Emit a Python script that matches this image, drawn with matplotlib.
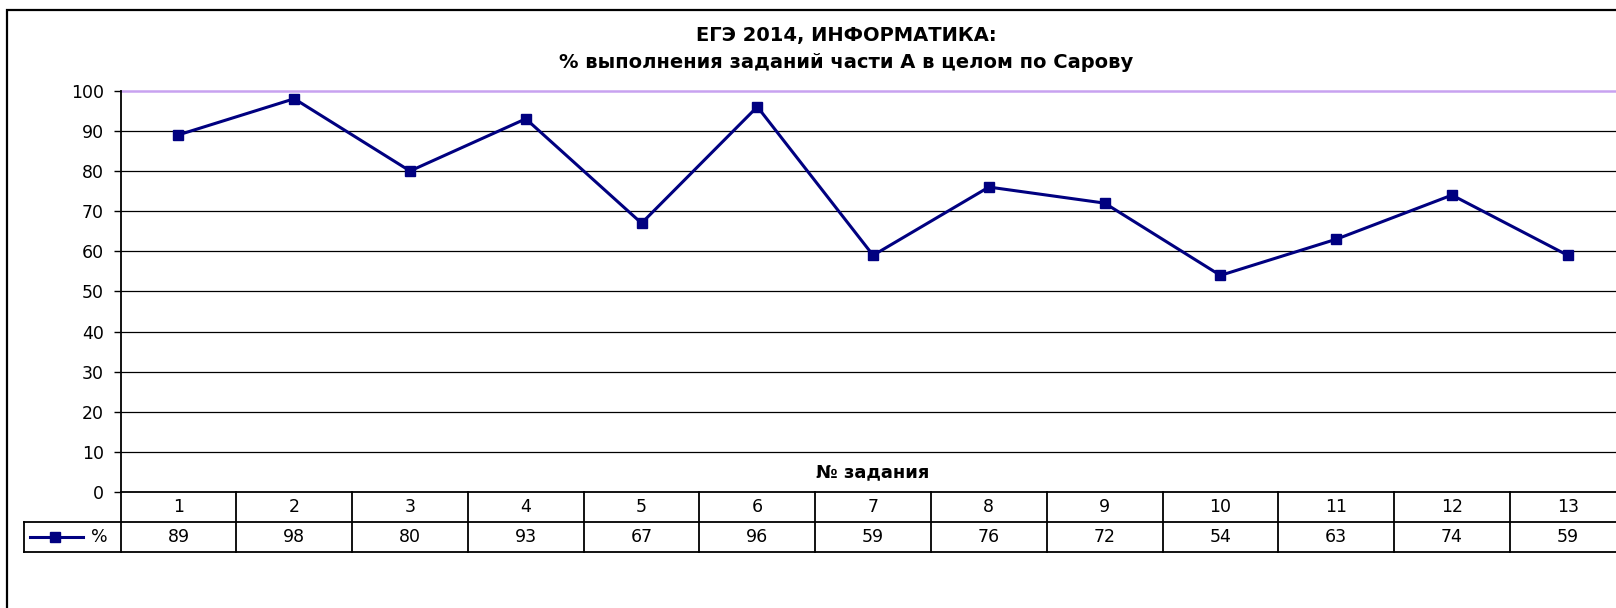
import matplotlib
matplotlib.use("Agg")
import matplotlib.pyplot as plt
from matplotlib.patches import Rectangle
from matplotlib.transforms import blended_transform_factory

plt.rcParams['font.family'] = ['DejaVu Sans']

# ---- data ----
tasks = ['1', '2', '3', '4', '5', '6', '7', '8', '9', '10', '11', '12', '13']
percent = [89, 98, 80, 93, 67, 96, 59, 76, 72, 54, 63, 74, 59]
yticks = [0, 10, 20, 30, 40, 50, 60, 70, 80, 90, 100]
title_line1 = 'ЕГЭ 2014, ИНФОРМАТИКА:'
title_line2 = '% выполнения заданий части А в целом по Сарову'
xlabel = '№ задания'
series_name = '%'

W, H = 1616, 608
fig = plt.figure(figsize=(W / 100, H / 100), dpi=100)

def fx(px):
    return px / W

def fy(py):
    return 1 - py / H

FS = 12.5

ax_left, ax_right, ax_top, ax_bottom = 120.6, 1625.6, 90.7, 492.2
ax = fig.add_axes([fx(ax_left), fy(ax_bottom), fx(ax_right - ax_left), (ax_bottom - ax_top) / H])

xs = list(range(1, len(tasks) + 1))
navy = '#000080'
ax.plot(xs, percent, color=navy, lw=2.2, marker='s', ms=7, mfc=navy, mec=navy, clip_on=False, zorder=5)

ax.set_xlim(0.5, len(tasks) + 0.5)
ax.set_ylim(0, 100)
ax.set_yticks(yticks)
ax.set_yticklabels([str(v) for v in yticks], fontsize=FS)
ax.set_xticks([])
ax.tick_params(axis='y', direction='out', length=5, width=1, pad=7, colors='black')

for v in yticks[1:-1]:
    ax.axhline(v, color='black', lw=0.9, zorder=1)
for s in ['top', 'right']:
    ax.spines[s].set_visible(False)
ax.axhline(100, color='#c8a2f0', lw=1.8, zorder=1, clip_on=False)
ax.spines['left'].set_linewidth(1.3)
ax.spines['bottom'].set_linewidth(1.3)

fig.text(fx((ax_left + ax_right) / 2), fy(472), xlabel, ha='center', va='center',
         fontsize=13, fontweight='bold')

# ---- title ----
fig.text(fx(846), fy(36), title_line1, ha='center', va='center', fontsize=14, fontweight='bold')
fig.text(fx(846), fy(62), title_line2, ha='center', va='center', fontsize=14, fontweight='bold')

# ---- data table ----
tr = blended_transform_factory(ax.transData, fig.transFigure)
row1_bot = fy(522.3)
row2_bot = fy(551.7)
top = fy(ax_bottom)
lw_t = 1.3
for k in range(len(tasks) + 1):
    ax.plot([k + 0.5, k + 0.5], [top, row2_bot], transform=tr, color='black', lw=lw_t, clip_on=False)
ax.plot([fx(23.5), fx(W + 20)], [row1_bot, row1_bot], transform=fig.transFigure, color='black', lw=lw_t, clip_on=False)
ax.plot([fx(23.5), fx(W + 20)], [row2_bot, row2_bot], transform=fig.transFigure, color='black', lw=lw_t, clip_on=False)
ax.plot([fx(23.5), fx(23.5)], [row1_bot, row2_bot], transform=fig.transFigure, color='black', lw=lw_t, clip_on=False)

for x, t, v in zip(xs, tasks, percent):
    ax.text(x, fy(507.5), t, transform=tr, ha='center', va='center', fontsize=FS, clip_on=False)
    ax.text(x, fy(537.5), str(v), transform=tr, ha='center', va='center', fontsize=FS, clip_on=False)

# legend key in table
ax.plot([fx(30), fx(83)], [fy(537), fy(537)], transform=fig.transFigure, color=navy, lw=2.2, clip_on=False)
ax.plot([fx(55)], [fy(537)], transform=fig.transFigure, marker='s', ms=7, color=navy, clip_on=False)
fig.text(fx(99), fy(537.5), series_name, ha='center', va='center', fontsize=FS)

# ---- chart frame ----
fig.patches.append(Rectangle((fx(7.3), fy(W)), 1.2, fy(10) - fy(W), transform=fig.transFigure,
                             fill=False, ec='black', lw=1.6, clip_on=False))

fig.savefig('out.png', dpi=100)
